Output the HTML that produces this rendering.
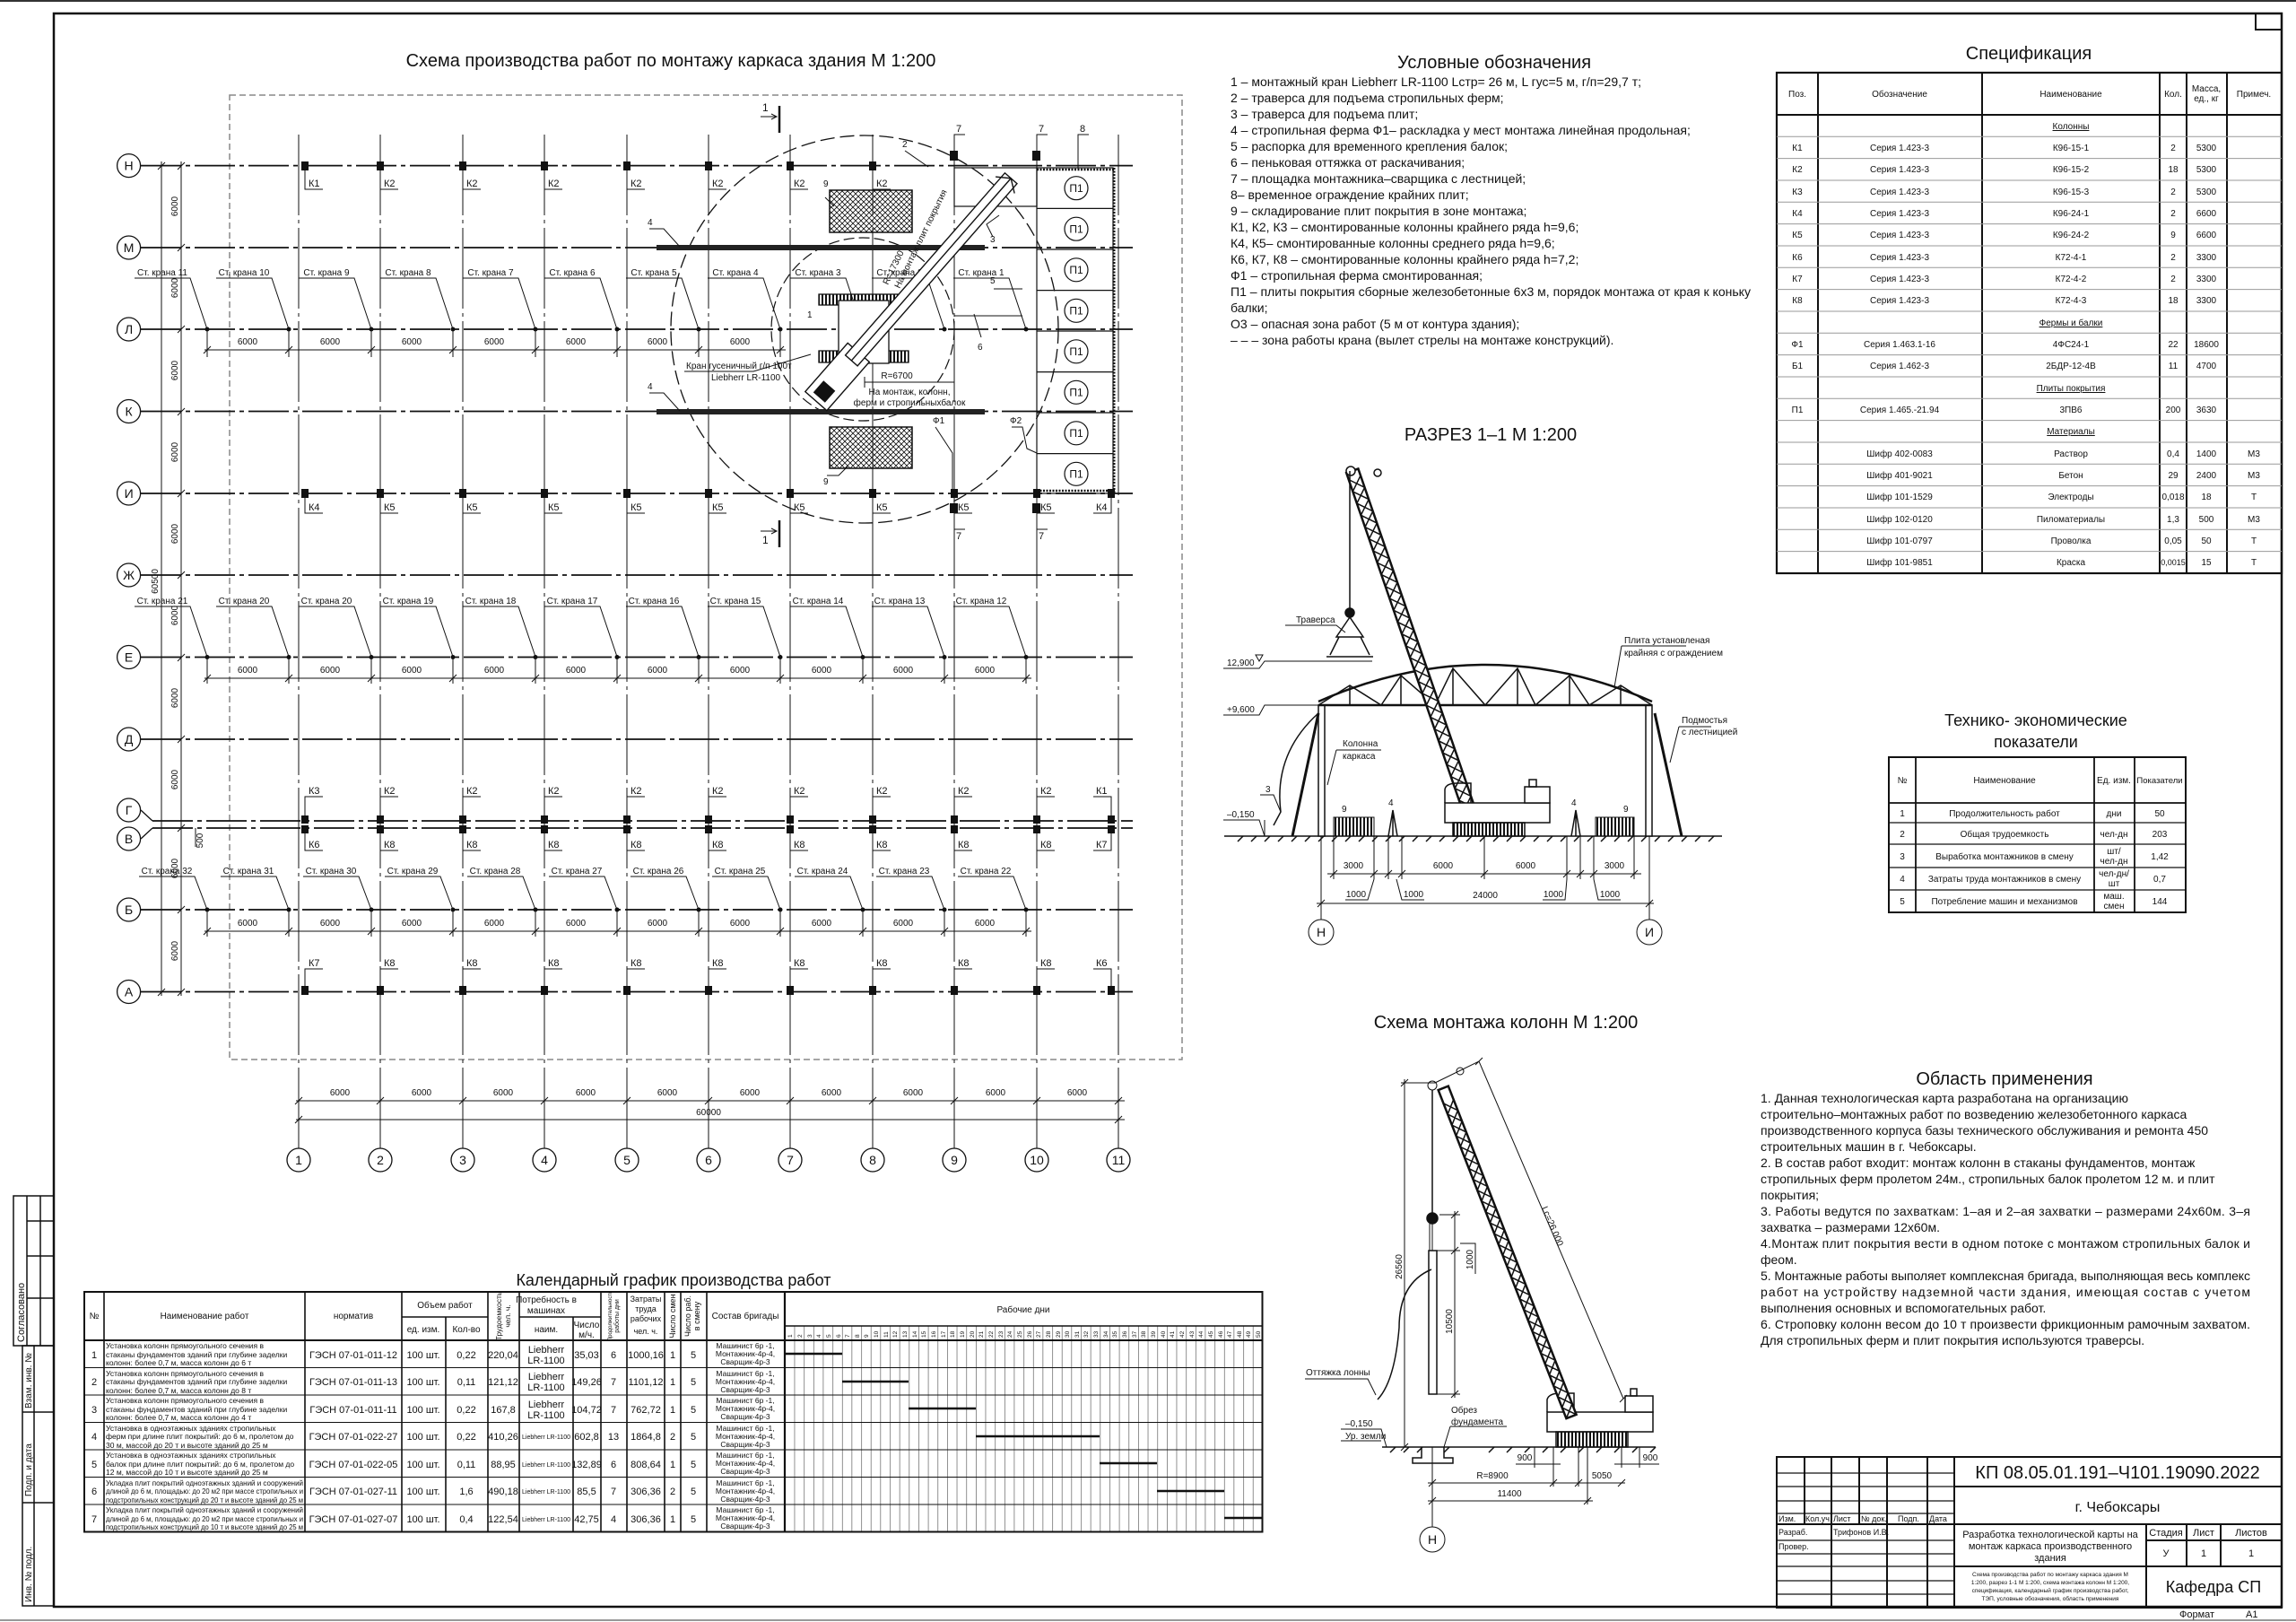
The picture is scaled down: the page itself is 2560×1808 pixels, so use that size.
<!DOCTYPE html>
<html><head><meta charset="utf-8">
<style>
html,body{margin:0;padding:0;background:#fff;}
svg{display:block;}
text{font-family:"Liberation Sans Narrow","Liberation Sans","DejaVu Sans",sans-serif;fill:#111;}
.t9{font-size:9px}.t10{font-size:10px}.t11{font-size:11px}.t12{font-size:12px}.t13{font-size:13px}.t14{font-size:14px}.t16{font-size:16px}.t18{font-size:18px}.t20{font-size:20px}
.m{text-anchor:middle}
.ln{stroke:#111;fill:none}
</style></head><body>
<svg width="2560" height="1808" viewBox="0 0 2560 1808" xmlns="http://www.w3.org/2000/svg">
<defs>
<pattern id="xh" patternUnits="userSpaceOnUse" width="6" height="6"><path d="M0 0L6 6M6 0L0 6" stroke="#111" stroke-width="0.8"/></pattern>
<pattern id="days" patternUnits="userSpaceOnUse" x="875" y="0" width="10.65" height="10"><line x1="0.3" y1="0" x2="0.3" y2="10" stroke="#555" stroke-width="0.7"/></pattern>
<pattern id="trs" patternUnits="userSpaceOnUse" width="4" height="5"><rect width="2" height="5" fill="#111"/></pattern>
</defs>
<rect width="2560" height="1808" fill="#fff"/>
<!-- page frame -->
<line x1="0" y1="1" x2="2560" y2="1" stroke="#333" stroke-width="2"/>
<line x1="0" y1="1806" x2="2560" y2="1806" stroke="#999" stroke-width="2"/>
<rect x="60" y="15" width="2484" height="1776" class="ln" stroke-width="2.5"/>
<rect x="2515" y="15" width="29" height="18" class="ln" stroke-width="2"/>
<!-- left stamp strip -->
<g class="ln" stroke-width="1.5">
<rect x="15" y="1333" width="45" height="167"/>
<line x1="30" y1="1333" x2="30" y2="1500"/><line x1="45" y1="1333" x2="45" y2="1500"/>
<line x1="30" y1="1361" x2="60" y2="1361"/><line x1="30" y1="1400" x2="60" y2="1400"/><line x1="30" y1="1447" x2="60" y2="1447"/>
<rect x="25" y="1500" width="35" height="290"/>
<line x1="38" y1="1500" x2="38" y2="1790"/>
<line x1="25" y1="1574" x2="60" y2="1574"/><line x1="25" y1="1675" x2="60" y2="1675"/>
</g>
<text class="t11" transform="translate(27,1496) rotate(-90)">Согласовано</text>
<text class="t10" transform="translate(35,1570) rotate(-90)">Взам. инв. №</text>
<text class="t10" transform="translate(35,1668) rotate(-90)">Подп. и дата</text>
<text class="t10" transform="translate(35,1786) rotate(-90)">Инв. № подл.</text>

<!-- ================= PLAN ================= -->
<text class="t20 m" x="748" y="74">Схема производства работ по монтажу каркаса здания М 1:200</text>
<rect x="256" y="106" width="1062" height="1075" fill="none" stroke="#888" stroke-width="1.5" stroke-dasharray="7 4"/>
<!-- column axes -->
<g stroke="#111" stroke-width="1" stroke-dasharray="90 5 4 5">
<line x1="333" y1="150" x2="333" y2="1280"/><line x1="424" y1="150" x2="424" y2="1280"/><line x1="516" y1="150" x2="516" y2="1280"/><line x1="607" y1="150" x2="607" y2="1280"/><line x1="699" y1="150" x2="699" y2="1280"/><line x1="790" y1="150" x2="790" y2="1280"/><line x1="881" y1="150" x2="881" y2="1280"/><line x1="973" y1="150" x2="973" y2="1280"/><line x1="1064" y1="150" x2="1064" y2="1280"/><line x1="1156" y1="150" x2="1156" y2="1280"/><line x1="1247" y1="150" x2="1247" y2="1280"/>
</g>
<!-- row axes -->
<g stroke="#111" stroke-width="1.8" stroke-dasharray="45 5 5 5">
<line x1="157" y1="184.6" x2="1263" y2="184.6"/><line x1="157" y1="276" x2="1263" y2="276"/><line x1="157" y1="367" x2="1263" y2="367"/><line x1="157" y1="458.5" x2="1263" y2="458.5"/><line x1="157" y1="550" x2="1263" y2="550"/><line x1="157" y1="641" x2="1263" y2="641"/><line x1="157" y1="732.5" x2="1263" y2="732.5"/><line x1="157" y1="824" x2="1263" y2="824"/><line x1="170" y1="915" x2="1263" y2="915"/><line x1="170" y1="923" x2="1263" y2="923"/><line x1="157" y1="1014" x2="1263" y2="1014"/><line x1="157" y1="1105.5" x2="1263" y2="1105.5"/>
</g>
<!-- row circles -->
<g class="ln" stroke-width="1.3" fill="#fff">
<circle cx="143.6" cy="184.6" r="13" fill="#fff"/><circle cx="143.6" cy="276" r="13" fill="#fff"/><circle cx="143.6" cy="367" r="13" fill="#fff"/><circle cx="143.6" cy="458.5" r="13" fill="#fff"/><circle cx="143.6" cy="550" r="13" fill="#fff"/><circle cx="143.6" cy="641" r="13" fill="#fff"/><circle cx="143.6" cy="732.5" r="13" fill="#fff"/><circle cx="143.6" cy="824" r="13" fill="#fff"/><circle cx="143.6" cy="903" r="13" fill="#fff"/><circle cx="143.6" cy="935" r="13" fill="#fff"/><circle cx="143.6" cy="1014" r="13" fill="#fff"/><circle cx="143.6" cy="1105.5" r="13" fill="#fff"/>
<path d="M157 903L170 915M157 935L170 923"/>
</g>
<g class="t14 m">
<text x="143.6" y="189.6">Н</text><text x="143.6" y="281">М</text><text x="143.6" y="372">Л</text><text x="143.6" y="463.5">К</text><text x="143.6" y="555">И</text><text x="143.6" y="646">Ж</text><text x="143.6" y="737.5">Е</text><text x="143.6" y="829">Д</text><text x="143.6" y="908">Г</text><text x="143.6" y="940">В</text><text x="143.6" y="1019">Б</text><text x="143.6" y="1110.5">А</text>
</g>
<!-- left dims -->
<g class="ln" stroke-width="1"><line x1="180" y1="180" x2="180" y2="1110"/><line x1="202" y1="180" x2="202" y2="1110"/>
<path d="M176 189l8-8M198 189l8-8M198 280l8-8M198 371l8-8M198 463l8-8M198 554l8-8M198 645l8-8M198 737l8-8M198 828l8-8M198 927l8-8M198 1018l8-8M176 1110l8-8M198 1110l8-8"/>
<path d="M218 923V944"/></g>
<g class="t10 m">
<text transform="translate(198,230) rotate(-90)">6000</text><text transform="translate(198,321) rotate(-90)">6000</text><text transform="translate(198,413) rotate(-90)">6000</text><text transform="translate(198,504) rotate(-90)">6000</text><text transform="translate(198,595) rotate(-90)">6000</text><text transform="translate(176,648) rotate(-90)">60500</text><text transform="translate(198,686) rotate(-90)">6000</text><text transform="translate(198,778) rotate(-90)">6000</text><text transform="translate(198,869) rotate(-90)">6000</text><text transform="translate(198,968) rotate(-90)">6000</text><text transform="translate(198,1060) rotate(-90)">6000</text><text transform="translate(226,937) rotate(-90)">500</text>
</g>
<!-- bottom dims -->
<g class="ln" stroke-width="1"><line x1="330" y1="1227" x2="1254" y2="1227"/><line x1="330" y1="1248" x2="1254" y2="1248"/>
<path d="M329 1231l8-8M420 1231l8-8M512 1231l8-8M603 1231l8-8M695 1231l8-8M786 1231l8-8M877 1231l8-8M969 1231l8-8M1060 1231l8-8M1152 1231l8-8M1243 1231l8-8M329 1252l8-8M1243 1252l8-8"/>
<path d="M333 1280V1280"/></g>
<g class="t10 m">
<text x="379" y="1221">6000</text><text x="470" y="1221">6000</text><text x="561" y="1221">6000</text><text x="653" y="1221">6000</text><text x="744" y="1221">6000</text><text x="836" y="1221">6000</text><text x="927" y="1221">6000</text><text x="1018" y="1221">6000</text><text x="1110" y="1221">6000</text><text x="1201" y="1221">6000</text><text x="790" y="1243">60000</text>
</g>
<g class="ln" stroke-width="1.3">
<circle cx="333" cy="1293" r="13" fill="#fff"/><circle cx="424" cy="1293" r="13" fill="#fff"/><circle cx="516" cy="1293" r="13" fill="#fff"/><circle cx="607" cy="1293" r="13" fill="#fff"/><circle cx="699" cy="1293" r="13" fill="#fff"/><circle cx="790" cy="1293" r="13" fill="#fff"/><circle cx="881" cy="1293" r="13" fill="#fff"/><circle cx="973" cy="1293" r="13" fill="#fff"/><circle cx="1064" cy="1293" r="13" fill="#fff"/><circle cx="1156" cy="1293" r="13" fill="#fff"/><circle cx="1247" cy="1293" r="13" fill="#fff"/>
</g>
<g class="t14 m">
<text x="333" y="1298">1</text><text x="424" y="1298">2</text><text x="516" y="1298">3</text><text x="607" y="1298">4</text><text x="699" y="1298">5</text><text x="790" y="1298">6</text><text x="881" y="1298">7</text><text x="973" y="1298">8</text><text x="1064" y="1298">9</text><text x="1156" y="1298">10</text><text x="1247" y="1298">11</text>
</g>

<!-- column squares -->
<g fill="#111">
<!-- Н -->
<rect x="336" y="180" width="8" height="10"/><rect x="420" y="180" width="8" height="10"/><rect x="512" y="180" width="8" height="10"/><rect x="603" y="180" width="8" height="10"/><rect x="695" y="180" width="8" height="10"/><rect x="786" y="180" width="8" height="10"/><rect x="877" y="180" width="8" height="10"/><rect x="969" y="180" width="8" height="10"/>
<rect x="1059" y="168" width="9" height="11"/><rect x="1151" y="168" width="9" height="11"/>
<!-- И -->
<rect x="336" y="545" width="8" height="10"/><rect x="420" y="545" width="8" height="10"/><rect x="512" y="545" width="8" height="10"/><rect x="603" y="545" width="8" height="10"/><rect x="695" y="545" width="8" height="10"/><rect x="786" y="545" width="8" height="10"/><rect x="877" y="545" width="8" height="10"/><rect x="969" y="545" width="8" height="10"/><rect x="1060" y="545" width="8" height="10"/><rect x="1152" y="545" width="8" height="10"/><rect x="1235" y="545" width="8" height="10"/>
<rect x="1059" y="561" width="9" height="11"/><rect x="1151" y="561" width="9" height="11"/>
<!-- Г / В / А -->
<rect x="336" y="909" width="8" height="9"/><rect x="420" y="909" width="8" height="9"/><rect x="512" y="909" width="8" height="9"/><rect x="603" y="909" width="8" height="9"/><rect x="695" y="909" width="8" height="9"/><rect x="786" y="909" width="8" height="9"/><rect x="877" y="909" width="8" height="9"/><rect x="969" y="909" width="8" height="9"/><rect x="1060" y="909" width="8" height="9"/><rect x="1152" y="909" width="8" height="9"/><rect x="1235" y="909" width="8" height="9"/>
<rect x="336" y="920" width="8" height="9"/><rect x="420" y="920" width="8" height="9"/><rect x="512" y="920" width="8" height="9"/><rect x="603" y="920" width="8" height="9"/><rect x="695" y="920" width="8" height="9"/><rect x="786" y="920" width="8" height="9"/><rect x="877" y="920" width="8" height="9"/><rect x="969" y="920" width="8" height="9"/><rect x="1060" y="920" width="8" height="9"/><rect x="1152" y="920" width="8" height="9"/><rect x="1235" y="920" width="8" height="9"/>
<rect x="336" y="1099" width="8" height="10"/><rect x="420" y="1099" width="8" height="10"/><rect x="512" y="1099" width="8" height="10"/><rect x="603" y="1099" width="8" height="10"/><rect x="695" y="1099" width="8" height="10"/><rect x="786" y="1099" width="8" height="10"/><rect x="877" y="1099" width="8" height="10"/><rect x="969" y="1099" width="8" height="10"/><rect x="1060" y="1099" width="8" height="10"/><rect x="1152" y="1099" width="8" height="10"/><rect x="1235" y="1099" width="8" height="10"/>
</g>
<!-- column label leaders -->
<g class="ln" stroke-width="1">
<path d="M340 190V211H360M424 190V211H444M516 190V211H536M607 190V211H627M699 190V211H719M790 190V211H810M881 190V211H901M973 190V211H993"/>
<path d="M340 555V572H360M424 555V572H444M516 555V572H536M607 555V572H627M699 555V572H719M790 555V572H810M881 555V572H901M973 555V572H993M1064 555V572H1084M1156 555V572H1176M1239 555V572H1219"/>
<path d="M340 909V888H360M424 909V888H444M516 909V888H536M607 909V888H627M699 909V888H719M790 909V888H810M881 909V888H901M973 909V888H993M1064 909V888H1084M1156 909V888H1176M1239 909V888H1219"/>
<path d="M340 929V948H360M424 929V948H444M516 929V948H536M607 929V948H627M699 929V948H719M790 929V948H810M881 929V948H901M973 929V948H993M1064 929V948H1084M1156 929V948H1176M1239 929V948H1219"/>
<path d="M340 1099V1080H360M424 1099V1080H444M516 1099V1080H536M607 1099V1080H627M699 1099V1080H719M790 1099V1080H810M881 1099V1080H901M973 1099V1080H993M1064 1099V1080H1084M1156 1099V1080H1176M1239 1099V1080H1219"/>
<path d="M1064 168V150H1076M1156 168V150H1168M1202 190V150H1214M1064 572V590H1076M1156 572V590H1168"/>
</g>
<g class="t11">
<text x="344" y="208">К1</text><text x="428" y="208">К2</text><text x="520" y="208">К2</text><text x="611" y="208">К2</text><text x="703" y="208">К2</text><text x="794" y="208">К2</text><text x="885" y="208">К2</text><text x="977" y="208">К2</text>
<text x="344" y="569">К4</text><text x="428" y="569">К5</text><text x="520" y="569">К5</text><text x="611" y="569">К5</text><text x="703" y="569">К5</text><text x="794" y="569">К5</text><text x="885" y="569">К5</text><text x="977" y="569">К5</text><text x="1068" y="569">К5</text><text x="1160" y="569">К5</text><text x="1222" y="569">К4</text>
<text x="344" y="885">К3</text><text x="428" y="885">К2</text><text x="520" y="885">К2</text><text x="611" y="885">К2</text><text x="703" y="885">К2</text><text x="794" y="885">К2</text><text x="885" y="885">К2</text><text x="977" y="885">К2</text><text x="1068" y="885">К2</text><text x="1160" y="885">К2</text><text x="1222" y="885">К1</text>
<text x="344" y="945">К6</text><text x="428" y="945">К8</text><text x="520" y="945">К8</text><text x="611" y="945">К8</text><text x="703" y="945">К8</text><text x="794" y="945">К8</text><text x="885" y="945">К8</text><text x="977" y="945">К8</text><text x="1068" y="945">К8</text><text x="1160" y="945">К8</text><text x="1222" y="945">К7</text>
<text x="344" y="1077">К7</text><text x="428" y="1077">К8</text><text x="520" y="1077">К8</text><text x="611" y="1077">К8</text><text x="703" y="1077">К8</text><text x="794" y="1077">К8</text><text x="885" y="1077">К8</text><text x="977" y="1077">К8</text><text x="1068" y="1077">К8</text><text x="1160" y="1077">К8</text><text x="1222" y="1077">К6</text>
<text x="1066" y="147">7</text><text x="1158" y="147">7</text><text x="1204" y="147">8</text><text x="1066" y="601">7</text><text x="1158" y="601">7</text>
</g>

<!-- crane stations -->
<g class="ln" stroke-width="1">
<!-- Л -->
<path d="M150 310H212L231 367M241 310H303L322 367M333 310H395L414 367M424 310H486L505 367M516 310H578L597 367M607 310H669L688 367M698 310H760L779 367M789 310H851L870 367M881 310H943L962 367M972 310H1034L1053 367M1063 310H1125L1144 367"/>
<line x1="228" y1="390" x2="876" y2="390"/>
<path d="M231 367V398M322 367V398M414 367V398M505 367V398M597 367V398M688 367V398M779 367V398M870 367V398M227 394l8-8M318 394l8-8M410 394l8-8M501 394l8-8M593 394l8-8M684 394l8-8M775 394l8-8M866 394l8-8"/>
<!-- Е -->
<path d="M150 676H212L231 732M241 676H303L322 732M333 676H395L414 732M424 676H486L505 732M516 676H578L597 732M607 676H669L688 732M698 676H760L779 732M789 676H851L870 732M881 676H943L962 732M972 676H1034L1053 732M1063 676H1125L1144 732"/>
<line x1="228" y1="756" x2="1150" y2="756"/>
<path d="M231 732V762M322 732V762M414 732V762M505 732V762M597 732V762M688 732V762M779 732V762M870 732V762M962 732V762M1053 732V762M1144 732V762M227 760l8-8M318 760l8-8M410 760l8-8M501 760l8-8M593 760l8-8M684 760l8-8M775 760l8-8M866 760l8-8M958 760l8-8M1049 760l8-8M1140 760l8-8"/>
<!-- Б -->
<path d="M155 977H217L231 1014M246 977H308L322 1014M338 977H400L414 1014M429 977H491L505 1014M521 977H583L597 1014M612 977H674L688 1014M703 977H765L779 1014M794 977H856L870 1014M886 977H948L962 1014M977 977H1039L1053 1014M1068 977H1130L1144 1014"/>
<line x1="228" y1="1038" x2="1150" y2="1038"/>
<path d="M231 1014V1044M322 1014V1044M414 1014V1044M505 1014V1044M597 1014V1044M688 1014V1044M779 1014V1044M870 1014V1044M962 1014V1044M1053 1014V1044M1144 1014V1044M227 1042l8-8M318 1042l8-8M410 1042l8-8M501 1042l8-8M593 1042l8-8M684 1042l8-8M775 1042l8-8M866 1042l8-8M958 1042l8-8M1049 1042l8-8M1140 1042l8-8"/>
</g>
<g fill="#111">
<circle cx="231" cy="367" r="2.5"/><circle cx="322" cy="367" r="2.5"/><circle cx="414" cy="367" r="2.5"/><circle cx="505" cy="367" r="2.5"/><circle cx="597" cy="367" r="2.5"/><circle cx="688" cy="367" r="2.5"/><circle cx="779" cy="367" r="2.5"/><circle cx="870" cy="367" r="2.5"/><circle cx="962" cy="367" r="2.5"/><circle cx="1053" cy="367" r="2.5"/><circle cx="1144" cy="367" r="2.5"/>
<circle cx="231" cy="732.5" r="2.5"/><circle cx="322" cy="732.5" r="2.5"/><circle cx="414" cy="732.5" r="2.5"/><circle cx="505" cy="732.5" r="2.5"/><circle cx="597" cy="732.5" r="2.5"/><circle cx="688" cy="732.5" r="2.5"/><circle cx="779" cy="732.5" r="2.5"/><circle cx="870" cy="732.5" r="2.5"/><circle cx="962" cy="732.5" r="2.5"/><circle cx="1053" cy="732.5" r="2.5"/><circle cx="1144" cy="732.5" r="2.5"/>
<circle cx="231" cy="1014" r="2.5"/><circle cx="322" cy="1014" r="2.5"/><circle cx="414" cy="1014" r="2.5"/><circle cx="505" cy="1014" r="2.5"/><circle cx="597" cy="1014" r="2.5"/><circle cx="688" cy="1014" r="2.5"/><circle cx="779" cy="1014" r="2.5"/><circle cx="870" cy="1014" r="2.5"/><circle cx="962" cy="1014" r="2.5"/><circle cx="1053" cy="1014" r="2.5"/><circle cx="1144" cy="1014" r="2.5"/>
</g>
<g class="t10 m">
<text x="181" y="307">Ст. крана 11</text><text x="272" y="307">Ст. крана 10</text><text x="364" y="307">Ст. крана 9</text><text x="455" y="307">Ст. крана 8</text><text x="547" y="307">Ст. крана 7</text><text x="638" y="307">Ст. крана 6</text><text x="729" y="307">Ст. крана 5</text><text x="820" y="307">Ст. крана 4</text><text x="912" y="307">Ст. крана 3</text><text x="1003" y="307">Ст. крана 2</text><text x="1094" y="307">Ст. крана 1</text>
<text x="276" y="384">6000</text><text x="368" y="384">6000</text><text x="459" y="384">6000</text><text x="551" y="384">6000</text><text x="642" y="384">6000</text><text x="733" y="384">6000</text><text x="825" y="384">6000</text>
<text x="181" y="673">Ст. крана 21</text><text x="272" y="673">Ст. крана 20</text><text x="364" y="673">Ст. крана 20</text><text x="455" y="673">Ст. крана 19</text><text x="547" y="673">Ст. крана 18</text><text x="638" y="673">Ст. крана 17</text><text x="729" y="673">Ст. крана 16</text><text x="820" y="673">Ст. крана 15</text><text x="912" y="673">Ст. крана 14</text><text x="1003" y="673">Ст. крана 13</text><text x="1094" y="673">Ст. крана 12</text>
<text x="276" y="750">6000</text><text x="368" y="750">6000</text><text x="459" y="750">6000</text><text x="551" y="750">6000</text><text x="642" y="750">6000</text><text x="733" y="750">6000</text><text x="825" y="750">6000</text><text x="916" y="750">6000</text><text x="1007" y="750">6000</text><text x="1098" y="750">6000</text>
<text x="186" y="974">Ст. крана 32</text><text x="277" y="974">Ст. крана 31</text><text x="369" y="974">Ст. крана 30</text><text x="460" y="974">Ст. крана 29</text><text x="552" y="974">Ст. крана 28</text><text x="643" y="974">Ст. крана 27</text><text x="734" y="974">Ст. крана 26</text><text x="825" y="974">Ст. крана 25</text><text x="917" y="974">Ст. крана 24</text><text x="1008" y="974">Ст. крана 23</text><text x="1099" y="974">Ст. крана 22</text>
<text x="276" y="1032">6000</text><text x="368" y="1032">6000</text><text x="459" y="1032">6000</text><text x="551" y="1032">6000</text><text x="642" y="1032">6000</text><text x="733" y="1032">6000</text><text x="825" y="1032">6000</text><text x="916" y="1032">6000</text><text x="1007" y="1032">6000</text><text x="1098" y="1032">6000</text>
</g>

<!-- crane working area -->
<circle cx="964" cy="367" r="216" fill="none" stroke="#111" stroke-width="1.3" stroke-dasharray="16 6"/>
<circle cx="962" cy="367" r="102" fill="none" stroke="#111" stroke-width="1.2" stroke-dasharray="12 5"/>
<rect x="925" y="212" width="92" height="47" fill="url(#xh)" stroke="#111" stroke-width="1.5"/>
<rect x="925" y="476" width="92" height="46" fill="url(#xh)" stroke="#111" stroke-width="1.5"/>
<rect x="732" y="273" width="366" height="6" fill="#222"/>
<rect x="732" y="456" width="366" height="6" fill="#222"/>
<!-- section marks -->
<g stroke="#111" stroke-width="2.5"><line x1="869" y1="118" x2="869" y2="148"/><line x1="869" y1="580" x2="869" y2="610"/></g>
<g class="ln" stroke-width="1"><path d="M848 130H866M860 127l6 3-6 3M848 592H866M860 589l6 3-6 3"/></g>
<text class="t12" x="850" y="124">1</text><text class="t12" x="850" y="606">1</text>
<!-- П1 slabs -->
<g class="ln" stroke-width="1.2">
<rect x="1156" y="187" width="85" height="363"/>
<path d="M1156 232.4H1241M1156 278H1241M1156 323.6H1241M1156 369H1241M1156 414.6H1241M1156 460H1241M1156 505.6H1241"/>
<rect x="1064" y="187" width="92" height="43"/>
</g>
<line x1="1242" y1="187" x2="1242" y2="550" stroke="#111" stroke-width="3" stroke-dasharray="2 1.5"/>
<line x1="1156" y1="189" x2="1242" y2="189" stroke="#111" stroke-width="2.5" stroke-dasharray="2 1.5"/>
<line x1="1156" y1="547" x2="1242" y2="547" stroke="#111" stroke-width="2.5" stroke-dasharray="2 1.5"/>
<g class="ln" stroke-width="1.2">
<circle cx="1200" cy="209.7" r="13" fill="#fff"/><circle cx="1200" cy="255.2" r="13" fill="#fff"/><circle cx="1200" cy="300.8" r="13" fill="#fff"/><circle cx="1200" cy="346.3" r="13" fill="#fff"/><circle cx="1200" cy="391.8" r="13" fill="#fff"/><circle cx="1200" cy="437.3" r="13" fill="#fff"/><circle cx="1200" cy="482.8" r="13" fill="#fff"/><circle cx="1200" cy="528.3" r="13" fill="#fff"/>
</g>
<g class="t12 m">
<text x="1200" y="214">П1</text><text x="1200" y="259.5">П1</text><text x="1200" y="305">П1</text><text x="1200" y="350.5">П1</text><text x="1200" y="396">П1</text><text x="1200" y="441.5">П1</text><text x="1200" y="487">П1</text><text x="1200" y="532.5">П1</text>
</g>
<!-- crane in plan -->
<g class="ln" stroke-width="1.3">
<rect x="913" y="328" width="100" height="12" fill="url(#trs)"/>
<rect x="913" y="391" width="100" height="13" fill="url(#trs)"/>
<rect x="935" y="335" width="56" height="70" fill="#fff"/>
</g>
<g transform="translate(923,432) rotate(-48.8)" class="ln" stroke-width="1.4">
<rect x="-20" y="-16" width="72" height="32" fill="#fff"/>
<rect x="-14" y="-8" width="16" height="16" fill="#111"/>
<rect x="40" y="-9" width="270" height="18" fill="#fff"/>
<line x1="40" y1="0" x2="310" y2="0"/>
<path d="M300 -14L310 0L300 14"/>
</g>
<text class="t10" transform="translate(990,318) rotate(-64)">R=17300</text>
<text class="t10" transform="translate(1003,322) rotate(-64)">На монтаж плит покрытия</text>
<g class="ln" stroke-width="1">
<path d="M964 426H1064M964 420V432M1064 420V432"/>
<path d="M900 150l0 0M1009 168L1035 186M1107 264L1100 250L1114 240M1108 322H1140M1064 352H1140M1094 376L1086 350"/>
<path d="M724 255H740L758 275M724 438H740L758 458M1043 476L1062 505V550M1128 476H1140L1145 500L1156 505"/>
<path d="M763 414H840L904 395M920 220L930 230M922 530H935L945 520"/>
</g>
<g class="t10">
<text x="1006" y="164">2</text><text x="1104" y="270">3</text><text x="1104" y="316">5</text><text x="1090" y="390">6</text><text x="722" y="251">4</text><text x="722" y="434">4</text><text x="1040" y="472">Ф1</text><text x="1126" y="472">Ф2</text><text x="918" y="208">9</text><text x="918" y="540">9</text><text x="900" y="354">1</text>
<text x="1000" y="422" class="m">R=6700</text>
<text x="765" y="411">Кран гусеничный г/п 100т</text>
<text x="793" y="424">Liebherr LR-1100</text>
<text x="1014" y="440" class="m">На монтаж, колонн,</text>
<text x="1014" y="452" class="m">ферм и стропильныхбалок</text>
</g>

<!-- ================= LEGEND ================= -->
<text class="t20 m" x="1666" y="76">Условные обозначения</text>
<g class="t14">
<text x="1372" y="96">1 – монтажный кран  Liebherr LR-1100 Lстр= 26 м, L гус=5 м, г/п=29,7 т;</text>
<text x="1372" y="114">2 – траверса для подъема стропильных ферм;</text>
<text x="1372" y="132">3 – траверса для подъема плит;</text>
<text x="1372" y="150">4 – стропильная ферма Ф1– раскладка у мест монтажа линейная продольная;</text>
<text x="1372" y="168">5 – распорка для временного крепления балок;</text>
<text x="1372" y="186">6 – пеньковая оттяжка от раскачивания;</text>
<text x="1372" y="204">7 – площадка монтажника–сварщика с лестницей;</text>
<text x="1372" y="222">8– временное ограждение крайних плит;</text>
<text x="1372" y="240">9 – складирование плит покрытия в зоне монтажа;</text>
<text x="1372" y="258">К1, К2, К3 –  смонтированные колонны крайнего ряда h=9,6;</text>
<text x="1372" y="276">К4, К5– смонтированные колонны среднего ряда h=9,6;</text>
<text x="1372" y="294">К6, К7, К8 –  смонтированные колонны крайнего ряда h=7,2;</text>
<text x="1372" y="312">Ф1 – стропильная ферма смонтированная;</text>
<text x="1372" y="330" textLength="580" lengthAdjust="spacingAndGlyphs">П1 – плиты покрытия сборные железобетонные 6х3 м, порядок монтажа от края к коньку</text>
<text x="1372" y="348">балки;</text>
<text x="1372" y="366">О3 – опасная зона работ (5 м от контура здания);</text>
<text x="1372" y="384">– – – зона работы крана (вылет стрелы на монтаже конструкций).</text>
</g>

<!-- ================= SPEC TABLE ================= -->
<text class="t20 m" x="2262" y="66">Спецификация</text>
<g class="ln">
<rect x="1981" y="81" width="563" height="558" stroke-width="2.2"/>
<g stroke-width="2"><line x1="1981" y1="128" x2="2544" y2="128"/><line x1="2027" y1="81" x2="2027" y2="639"/><line x1="2210" y1="81" x2="2210" y2="639"/><line x1="2408" y1="81" x2="2408" y2="639"/><line x1="2438" y1="81" x2="2438" y2="639"/><line x1="2483" y1="81" x2="2483" y2="639"/></g>
<g stroke="#999" stroke-width="1"><path d="M1981 152.3H2544M1981 176.6H2544M1981 201H2544M1981 225.3H2544M1981 249.6H2544M1981 274H2544M1981 298.3H2544M1981 322.6H2544M1981 347H2544M1981 371.3H2544M1981 395.6H2544M1981 420H2544M1981 444.3H2544M1981 468.6H2544M1981 493H2544M1981 517.3H2544M1981 541.6H2544M1981 566H2544M1981 590.3H2544M1981 614.6H2544"/></g>
</g>
<g class="t10 m">
<text x="2004" y="108">Поз.</text><text x="2118" y="108">Обозначение</text><text x="2309" y="108">Наименование</text><text x="2423" y="108">Кол.</text><text x="2460" y="102">Масса,</text><text x="2460" y="113">ед., кг</text><text x="2513" y="108">Примеч.</text>
<text x="2309" y="144" text-decoration="underline">Колонны</text>
<text x="2004" y="168">К1</text><text x="2118" y="168">Серия 1.423-3</text><text x="2309" y="168">К96-15-1</text><text x="2423" y="168">2</text><text x="2460" y="168">5300</text>
<text x="2004" y="192">К2</text><text x="2118" y="192">Серия 1.423-3</text><text x="2309" y="192">К96-15-2</text><text x="2423" y="192">18</text><text x="2460" y="192">5300</text>
<text x="2004" y="217">К3</text><text x="2118" y="217">Серия 1.423-3</text><text x="2309" y="217">К96-15-3</text><text x="2423" y="217">2</text><text x="2460" y="217">5300</text>
<text x="2004" y="241">К4</text><text x="2118" y="241">Серия 1.423-3</text><text x="2309" y="241">К96-24-1</text><text x="2423" y="241">2</text><text x="2460" y="241">6600</text>
<text x="2004" y="265">К5</text><text x="2118" y="265">Серия 1.423-3</text><text x="2309" y="265">К96-24-2</text><text x="2423" y="265">9</text><text x="2460" y="265">6600</text>
<text x="2004" y="290">К6</text><text x="2118" y="290">Серия 1.423-3</text><text x="2309" y="290">К72-4-1</text><text x="2423" y="290">2</text><text x="2460" y="290">3300</text>
<text x="2004" y="314">К7</text><text x="2118" y="314">Серия 1.423-3</text><text x="2309" y="314">К72-4-2</text><text x="2423" y="314">2</text><text x="2460" y="314">3300</text>
<text x="2004" y="338">К8</text><text x="2118" y="338">Серия 1.423-3</text><text x="2309" y="338">К72-4-3</text><text x="2423" y="338">18</text><text x="2460" y="338">3300</text>
<text x="2309" y="363" text-decoration="underline">Фермы и балки</text>
<text x="2004" y="387">Ф1</text><text x="2118" y="387">Серия 1.463.1-16</text><text x="2309" y="387">4ФС24-1</text><text x="2423" y="387">22</text><text x="2460" y="387">18600</text>
<text x="2004" y="411">Б1</text><text x="2118" y="411">Серия 1.462-3</text><text x="2309" y="411">2БДР-12-4В</text><text x="2423" y="411">11</text><text x="2460" y="411">4700</text>
<text x="2309" y="436" text-decoration="underline">Плиты покрытия</text>
<text x="2004" y="460">П1</text><text x="2118" y="460">Серия 1.465.-21.94</text><text x="2309" y="460">3ПВ6</text><text x="2423" y="460">200</text><text x="2460" y="460">3630</text>
<text x="2309" y="484" text-decoration="underline">Материалы</text>
<text x="2118" y="509">Шифр 402-0083</text><text x="2309" y="509">Раствор</text><text x="2423" y="509">0,4</text><text x="2460" y="509">1400</text><text x="2513" y="509">М3</text>
<text x="2118" y="533">Шифр 401-9021</text><text x="2309" y="533">Бетон</text><text x="2423" y="533">29</text><text x="2460" y="533">2400</text><text x="2513" y="533">М3</text>
<text x="2118" y="557">Шифр 101-1529</text><text x="2309" y="557">Электроды</text><text x="2423" y="557">0,018</text><text x="2460" y="557">18</text><text x="2513" y="557">Т</text>
<text x="2118" y="582">Шифр 102-0120</text><text x="2309" y="582">Пиломатериалы</text><text x="2423" y="582">1,3</text><text x="2460" y="582">500</text><text x="2513" y="582">М3</text>
<text x="2118" y="606">Шифр 101-0797</text><text x="2309" y="606">Проволка</text><text x="2423" y="606">0,05</text><text x="2460" y="606">50</text><text x="2513" y="606">Т</text>
<text x="2118" y="630">Шифр 101-9851</text><text x="2309" y="630">Краска</text><text x="2423" y="630" style="font-size:9px">0,0015</text><text x="2460" y="630">15</text><text x="2513" y="630">Т</text>
</g>

<!-- ================= TEP ================= -->
<text class="t18 m" x="2270" y="809">Технико- экономические</text>
<text class="t18 m" x="2270" y="833">показатели</text>
<g class="ln">
<rect x="2106" y="844" width="331" height="173" stroke-width="2"/>
<g stroke-width="1.8"><line x1="2136" y1="844" x2="2136" y2="1017"/><line x1="2335" y1="844" x2="2335" y2="1017"/><line x1="2380" y1="844" x2="2380" y2="1017"/><line x1="2106" y1="895" x2="2437" y2="895"/></g>
<g stroke-width="1.2"><path d="M2106 917H2437M2106 941H2437M2106 967H2437M2106 992H2437"/></g>
</g>
<g class="t10 m">
<text x="2121" y="873">№</text><text x="2235" y="873">Наименование</text><text x="2357" y="873">Ед. изм.</text><text x="2408" y="873" style="font-size:9.5px">Показатели</text>
<text x="2121" y="910">1</text><text x="2235" y="910">Продолжительность работ</text><text x="2357" y="910">дни</text><text x="2408" y="910">50</text>
<text x="2121" y="933">2</text><text x="2235" y="933">Общая трудоемкость</text><text x="2357" y="933">чел-дн</text><text x="2408" y="933">203</text>
<text x="2121" y="958">3</text><text x="2235" y="958">Выработка монтажников в смену</text><text x="2357" y="952">шт/</text><text x="2357" y="963">чел-дн</text><text x="2408" y="958">1,42</text>
<text x="2121" y="983">4</text><text x="2235" y="983">Затраты труда монтажников в смену</text><text x="2357" y="977">чел-дн/</text><text x="2357" y="988">шт</text><text x="2408" y="983">0,7</text>
<text x="2121" y="1008">5</text><text x="2235" y="1008">Потребление машин и механизмов</text><text x="2357" y="1002">маш.</text><text x="2357" y="1013">смен</text><text x="2408" y="1008">144</text>
</g>

<!-- ================= AREA ================= -->
<text class="t20 m" x="2235" y="1209">Область применения</text>
<g class="t14">
<text x="1963" y="1229">1. Данная технологическая карта разработана на организацию</text>
<text x="1963" y="1247">строительно–монтажных работ по возведению железобетонного каркаса</text>
<text x="1963" y="1265">производственного корпуса базы технического обслуживания и ремонта 450</text>
<text x="1963" y="1283">строительных машин в г. Чебоксары.</text>
<text x="1963" y="1301">2. В состав работ входит: монтаж колонн в стаканы фундаментов, монтаж</text>
<text x="1963" y="1319">стропильных ферм пролетом 24м., стропильных балок пролетом 12 м. и плит</text>
<text x="1963" y="1337">покрытия;</text>
<text x="1963" y="1355" textLength="546" lengthAdjust="spacing">3. Работы ведутся по захваткам: 1–ая и 2–ая захватки – размерами 24х60м. 3–я</text>
<text x="1963" y="1373">захватка – размерами 12х60м.</text>
<text x="1963" y="1391" textLength="546" lengthAdjust="spacing">4.Монтаж плит покрытия вести в одном потоке с монтажом стропильных балок и</text>
<text x="1963" y="1409">феом.</text>
<text x="1963" y="1427" textLength="546" lengthAdjust="spacing">5. Монтажные работы выполяет комплексная бригада, выполняющая весь комплекс</text>
<text x="1963" y="1445" textLength="546" lengthAdjust="spacing">работ на устройству надземной части здания, имеющая состав с учетом</text>
<text x="1963" y="1463">выполнения основных и вспомогательных работ.</text>
<text x="1963" y="1481" textLength="546" lengthAdjust="spacing">6. Строповку колонн весом до 10 т произвести фрикционным рамочным захватом.</text>
<text x="1963" y="1499">Для стропильных ферм и плит покрытия используются траверсы.</text>
</g>

<!-- ================= SECTION 1-1 ================= -->
<text class="t20 m" x="1662" y="491">РАЗРЕЗ 1–1 М 1:200</text>
<g class="ln" stroke-width="1.5">
<line x1="1365" y1="932" x2="1920" y2="932"/>
<path d="M1380 938l6-6M1395 938l6-6M1410 938l6-6M1425 938l6-6M1440 938l6-6M1455 938l6-6M1470 938l6-6M1485 938l6-6M1500 938l6-6M1515 938l6-6M1530 938l6-6M1545 938l6-6M1560 938l6-6M1575 938l6-6M1590 938l6-6M1605 938l6-6M1620 938l6-6M1635 938l6-6M1650 938l6-6M1665 938l6-6M1680 938l6-6M1695 938l6-6M1710 938l6-6M1725 938l6-6M1740 938l6-6M1755 938l6-6M1770 938l6-6M1785 938l6-6M1800 938l6-6M1815 938l6-6M1830 938l6-6M1845 938l6-6M1860 938l6-6M1875 938l6-6M1890 938l6-6M1905 938l6-6"/>
<rect x="1470" y="786" width="7" height="146" fill="#fff"/><rect x="1835" y="786" width="7" height="146" fill="#fff"/>
<line x1="1470" y1="786" x2="1842" y2="786" stroke-width="2.5"/>
<path d="M1470 782Q1656 700 1842 782" stroke-width="2.5"/>
<path d="M1470 786L1505 764L1540 786L1562 753L1600 786L1620 745L1656 786L1692 745L1712 786L1750 753L1772 786L1807 764L1842 786" stroke-width="1.5"/>
<path d="M1505 764V786M1562 753V786M1620 745V786M1692 745V786M1750 753V786M1807 764V786"/>
<path d="M1441 932L1470 795M1875 932L1845 795" stroke-width="3"/>
<path d="M1470 795Q1420 840 1428 905L1420 920"/>
<rect x="1487" y="911" width="45" height="21" fill="url(#trs)" stroke-width="1"/>
<rect x="1779" y="911" width="43" height="21" fill="url(#trs)" stroke-width="1"/>
<path d="M1548 932L1553 903L1558 932M1553 903V932M1752 932L1757 903L1762 932M1757 903V932"/>
</g>
<!-- crane boom section -->
<g transform="translate(1638,903) rotate(-19)" class="ln" stroke-width="1.5">
<rect x="-7" y="-400" width="14" height="400" fill="#fff" stroke-width="2.5"/>
<path d="M-7 0L7 -14L-7 -28L7 -42L-7 -56L7 -70L-7 -84L7 -98L-7 -112L7 -126L-7 -140L7 -154L-7 -168L7 -182L-7 -196L7 -210L-7 -224L7 -238L-7 -252L7 -266L-7 -280L7 -294L-7 -308L7 -322L-7 -336L7 -350L-7 -364L7 -378L-7 -392M7 0L-7 -14L7 -28L-7 -42L7 -56L-7 -70L7 -84L-7 -98L7 -112L-7 -126L7 -140L-7 -154L7 -168L-7 -182L7 -196L-7 -210L7 -224L-7 -238L7 -252L-7 -266L7 -280L-7 -294L7 -308L-7 -322L7 -336L-7 -350L7 -364L-7 -378L7 -392"/>
</g>
<g class="ln" stroke-width="1.5">
<circle cx="1506" cy="525" r="5" fill="#fff"/><circle cx="1536" cy="527" r="4"/>
<line x1="1505" y1="525" x2="1505" y2="680"/>
<circle cx="1505" cy="683" r="5" fill="#111"/>
<path d="M1505 688L1490 710H1520Z M1493 710L1483 730M1517 710L1527 730M1479 732H1531" fill="none"/>
<rect x="1611" y="895" width="117" height="22" fill="#fff"/>
<rect x="1620" y="917" width="80" height="15" fill="url(#trs)"/>
<path d="M1611 895V880Q1612 873 1625 873H1640V895"/>
<rect x="1700" y="877" width="28" height="18" fill="#fff"/><rect x="1705" y="869" width="8" height="8"/>
</g>
<!-- levels & dims -->
<g class="ln" stroke-width="1">
<path d="M1364 745H1404L1410 737H1530M1404 737l-4-7h8z"/>
<path d="M1364 797H1404L1410 786H1470"/>
<path d="M1364 914H1404L1410 932M1410 914V932"/>
<line x1="1480" y1="974" x2="1830" y2="974"/>
<path d="M1487 932V980M1532 932V980M1548 932V980M1563 932V980M1655 932V980M1747 932V980M1762 932V980M1777 932V980M1822 932V980"/>
<path d="M1483 978l8-8M1528 978l8-8M1544 978l8-8M1559 978l8-8M1651 978l8-8M1743 978l8-8M1758 978l8-8M1773 978l8-8M1818 978l8-8"/>
<line x1="1468" y1="1007" x2="1844" y2="1007"/>
<path d="M1473 932V1025M1839 932V1025M1469 1011l8-8M1835 1011l8-8"/>
<path d="M1500 1003H1525L1532 980M1557 980L1563 1003H1588M1720 1003H1745L1747 980M1777 980L1782 1003H1807"/>
<circle cx="1473" cy="1039" r="14" fill="#fff"/><circle cx="1839" cy="1039" r="14" fill="#fff"/>
<path d="M1433 697H1490L1500 705M1808 720H1880M1808 720L1800 766M1872 810H1908M1872 810L1862 850M1490 836H1540M1490 836L1480 875M1405 886H1420L1428 905"/>
</g>
<g class="t10">
<text x="1368" y="742">12,900</text><text x="1368" y="794">+9,600</text><text x="1368" y="911">–0,150</text>
<text x="1509" y="968" class="m">3000</text><text x="1609" y="968" class="m">6000</text><text x="1701" y="968" class="m">6000</text><text x="1800" y="968" class="m">3000</text>
<text x="1512" y="1000" class="m">1000</text><text x="1576" y="1000" class="m">1000</text><text x="1732" y="1000" class="m">1000</text><text x="1795" y="1000" class="m">1000</text>
<text x="1656" y="1001" class="m">24000</text>
<text x="1445" y="694">Траверса</text>
<text x="1811" y="717">Плита установленая</text><text x="1811" y="731">крайняя с ограждением</text>
<text x="1875" y="806">Подмостья</text><text x="1875" y="819">с лестницией</text>
<text x="1497" y="832">Колонна</text><text x="1497" y="846">каркаса</text>
<text x="1411" y="883">3</text><text x="1496" y="905">9</text><text x="1548" y="898">4</text><text x="1752" y="898">4</text><text x="1810" y="905">9</text>
</g>
<text class="t14 m" x="1473" y="1044">Н</text><text class="t14 m" x="1839" y="1044">И</text>

<!-- ================= COLUMN SCHEME ================= -->
<text class="t20 m" x="1679" y="1146">Схема монтажа колонн М 1:200</text>
<g class="ln" stroke-width="1.5">
<line x1="1541" y1="1613" x2="1846" y2="1613"/>
<path d="M1550 1619l6-6M1565 1619l6-6M1580 1619l6-6M1610 1619l6-6M1660 1619l6-6M1680 1619l6-6M1700 1619l6-6M1720 1619l6-6M1740 1619l6-6M1760 1619l6-6M1780 1619l6-6M1800 1619l6-6M1820 1619l6-6M1840 1619l6-6"/>
<path d="M1585 1613V1625H1575V1631H1620V1625H1610V1613"/>
<rect x="1593" y="1394" width="9" height="160" fill="#fff"/>
<line x1="1597" y1="1210" x2="1597" y2="1352"/>
<circle cx="1597" cy="1358" r="6" fill="#111"/>
<path d="M1597 1364V1394M1594 1364V1394" stroke-width="1"/>
<path d="M1596 1415Q1560 1430 1560 1480Q1555 1540 1536 1560"/>
<rect x="1725" y="1574" width="118" height="22" fill="#fff"/>
<rect x="1735" y="1596" width="80" height="17" fill="url(#trs)"/>
<path d="M1725 1574V1560Q1727 1553 1740 1553H1755V1574"/>
<rect x="1812" y="1556" width="31" height="18" fill="#fff"/><rect x="1818" y="1548" width="7" height="8"/>
</g>
<g transform="translate(1752,1579) rotate(-21.3)" class="ln" stroke-width="1.5">
<rect x="-6" y="-393" width="12" height="393" fill="#fff" stroke-width="2.5"/>
<path d="M-6 0L6 -13L-6 -26L6 -39L-6 -52L6 -65L-6 -78L6 -91L-6 -104L6 -117L-6 -130L6 -143L-6 -156L6 -169L-6 -182L6 -195L-6 -208L6 -221L-6 -234L6 -247L-6 -260L6 -273L-6 -286L6 -299L-6 -312L6 -325L-6 -338L6 -351L-6 -364L6 -377M6 0L-6 -13L6 -26L-6 -39L6 -52L-6 -65L6 -78L-6 -91L6 -104L-6 -117L6 -130L-6 -143L6 -156L-6 -169L6 -182L-6 -195L6 -208L-6 -221L6 -234L-6 -247L6 -260L-6 -273L6 -286L-6 -299L6 -312L-6 -325L6 -338L-6 -351L6 -364L-6 -377"/>
</g>
<g class="ln" stroke-width="1">
<circle cx="1597" cy="1210" r="5" fill="#fff"/><circle cx="1628" cy="1194" r="4"/>
<path d="M1562 1207H1600M1566 1203V1613M1562 1211l8-8M1562 1617l8-8"/>
<path d="M1602 1394H1628M1605 1354H1628M1602 1554H1628M1622 1350V1558M1618 1358l8-8M1618 1398l8-8M1618 1558l8-8M1628 1386H1645V1420"/>
<path d="M1600 1207L1649 1183L1810 1559M1645 1187l8-8M1806 1563l8-8"/>
<path d="M1455 1537H1525L1534 1555"/>
<path d="M1495 1593H1540L1546 1613M1495 1606H1540"/>
<path d="M1617 1590H1680M1617 1590L1610 1613"/>
<path d="M1711 1613V1636M1732 1613V1636M1808 1613V1636M1828 1613V1636M1690 1632H1740M1800 1632H1850"/>
<line x1="1592" y1="1653" x2="1812" y2="1653"/><line x1="1592" y1="1673" x2="1776" y2="1673"/>
<path d="M1597 1613V1702M1732 1636V1657M1760 1613V1657M1770 1613V1677M1593 1657l8-8M1728 1657l8-8M1756 1657l8-8M1804 1657l8-8M1593 1677l8-8M1766 1677l8-8"/>
<circle cx="1597" cy="1716" r="14" fill="#fff"/>
</g>
<g class="t10">
<text class="m" transform="translate(1563,1412) rotate(-90)">26560</text>
<text class="m" transform="translate(1619,1473) rotate(-90)">10500</text>
<text class="m" transform="translate(1642,1404) rotate(-90)">1000</text>
<text class="m" transform="translate(1728,1368) rotate(67)">Lс=26 000</text>
<text x="1456" y="1533">Оттяжка лонны</text>
<text x="1500" y="1590">–0,150</text><text x="1500" y="1604">Ур. земли</text>
<text x="1618" y="1575">Обрез</text><text x="1618" y="1588">фундамента</text>
<text x="1700" y="1628" class="m">900</text><text x="1840" y="1628" class="m">900</text>
<text x="1664" y="1648" class="m">R=8900</text><text x="1786" y="1648" class="m">5050</text><text x="1683" y="1668" class="m">11400</text>
</g>
<text class="t14 m" x="1597" y="1721">Н</text>

<!-- ================= CALENDAR ================= -->
<text class="t18 m" x="751" y="1433">Календарный график производства работ</text>
<rect x="875" y="1494" width="533" height="213" fill="url(#days)"/>
<rect x="875" y="1478" width="533" height="16" fill="url(#days)"/>
<g class="ln">
<rect x="94" y="1440" width="1313.5" height="267.5" stroke-width="2"/>
<g stroke-width="1.6">
<line x1="116" y1="1440" x2="116" y2="1707.5"/><line x1="340" y1="1440" x2="340" y2="1707.5"/><line x1="448" y1="1440" x2="448" y2="1707.5"/><line x1="497" y1="1468" x2="497" y2="1707.5"/><line x1="544" y1="1440" x2="544" y2="1707.5"/><line x1="579" y1="1440" x2="579" y2="1707.5"/><line x1="639" y1="1468" x2="639" y2="1707.5"/><line x1="670" y1="1440" x2="670" y2="1707.5"/><line x1="699" y1="1440" x2="699" y2="1707.5"/><line x1="741" y1="1440" x2="741" y2="1707.5"/><line x1="759" y1="1440" x2="759" y2="1707.5"/><line x1="788" y1="1440" x2="788" y2="1707.5"/><line x1="875" y1="1440" x2="875" y2="1707.5" stroke-width="2.2"/>
<line x1="448" y1="1468" x2="544" y2="1468"/><line x1="579" y1="1468" x2="670" y2="1468"/>
<line x1="875" y1="1478" x2="1407.5" y2="1478"/>
<line x1="94" y1="1494" x2="1407.5" y2="1494" stroke-width="2"/>
</g>
<g stroke-width="1.1"><path d="M94 1524.5H1407.5M94 1555H1407.5M94 1585.5H1407.5M94 1616H1407.5M94 1646.5H1407.5M94 1677H1407.5"/></g>
</g>
<g stroke="#111" stroke-width="2.5">
<line x1="875" y1="1509" x2="939" y2="1509"/><line x1="939" y1="1540" x2="1013" y2="1540"/><line x1="1013" y1="1570" x2="1088" y2="1570"/><line x1="1088" y1="1601" x2="1226" y2="1601"/><line x1="1226" y1="1631" x2="1290" y2="1631"/><line x1="1290" y1="1662" x2="1365" y2="1662"/><line x1="1365" y1="1692" x2="1407" y2="1692"/>
</g>
<g class="t10 m">
<text x="105" y="1470">№</text><text x="228" y="1470">Наименование работ</text><text x="394" y="1470">норматив</text>
<text x="496" y="1458">Объем работ</text><text x="472" y="1485">ед. изм.</text><text x="520" y="1485">Кол-во</text>
<text transform="translate(559,1467) rotate(-90)" style="font-size:8.5px">Трудоемкость</text><text transform="translate(569,1467) rotate(-90)" style="font-size:8.5px">чел. ч.</text>
<text x="609" y="1452">Потребность в</text><text x="609" y="1464">машинах</text><text x="609" y="1485">наим.</text><text x="654" y="1480">Число</text><text x="654" y="1491">м/ч.</text>
<text transform="translate(682,1467) rotate(-90)" style="font-size:6px">Продолжительность</text><text transform="translate(690,1467) rotate(-90)" style="font-size:7px">работы дни</text>
<text x="720" y="1451" style="font-size:9px">Затраты</text><text x="720" y="1462" style="font-size:9px">труда</text><text x="720" y="1473" style="font-size:9px">рабочих</text><text x="720" y="1487" style="font-size:9px">чел. ч.</text>
<text transform="translate(753,1467) rotate(-90)" style="font-size:9px">Число смен</text>
<text transform="translate(770,1467) rotate(-90)" style="font-size:9px">Число раб.</text><text transform="translate(780,1467) rotate(-90)" style="font-size:9px">в смену</text>
<text x="831" y="1470">Состав бригады</text>
<text x="1141" y="1463">Рабочие дни</text>
</g>
<g style="font-size:6.5px">
<text transform="translate(883,1491) rotate(-90)">1</text><text transform="translate(894,1491) rotate(-90)">2</text><text transform="translate(905,1491) rotate(-90)">3</text><text transform="translate(915,1491) rotate(-90)">4</text><text transform="translate(926,1491) rotate(-90)">5</text><text transform="translate(937,1491) rotate(-90)">6</text><text transform="translate(947,1491) rotate(-90)">7</text><text transform="translate(958,1491) rotate(-90)">8</text><text transform="translate(968,1491) rotate(-90)">9</text><text transform="translate(979,1491) rotate(-90)">10</text>
<text transform="translate(990,1491) rotate(-90)">11</text><text transform="translate(1000,1491) rotate(-90)">12</text><text transform="translate(1011,1491) rotate(-90)">13</text><text transform="translate(1022,1491) rotate(-90)">14</text><text transform="translate(1032,1491) rotate(-90)">15</text><text transform="translate(1043,1491) rotate(-90)">16</text><text transform="translate(1054,1491) rotate(-90)">17</text><text transform="translate(1064,1491) rotate(-90)">18</text><text transform="translate(1075,1491) rotate(-90)">19</text><text transform="translate(1086,1491) rotate(-90)">20</text>
<text transform="translate(1096,1491) rotate(-90)">21</text><text transform="translate(1107,1491) rotate(-90)">22</text><text transform="translate(1118,1491) rotate(-90)">23</text><text transform="translate(1128,1491) rotate(-90)">24</text><text transform="translate(1139,1491) rotate(-90)">25</text><text transform="translate(1150,1491) rotate(-90)">26</text><text transform="translate(1160,1491) rotate(-90)">27</text><text transform="translate(1171,1491) rotate(-90)">28</text><text transform="translate(1182,1491) rotate(-90)">29</text><text transform="translate(1192,1491) rotate(-90)">30</text>
<text transform="translate(1203,1491) rotate(-90)">31</text><text transform="translate(1213,1491) rotate(-90)">32</text><text transform="translate(1224,1491) rotate(-90)">33</text><text transform="translate(1235,1491) rotate(-90)">34</text><text transform="translate(1245,1491) rotate(-90)">35</text><text transform="translate(1256,1491) rotate(-90)">36</text><text transform="translate(1267,1491) rotate(-90)">37</text><text transform="translate(1277,1491) rotate(-90)">38</text><text transform="translate(1288,1491) rotate(-90)">39</text><text transform="translate(1299,1491) rotate(-90)">40</text>
<text transform="translate(1309,1491) rotate(-90)">41</text><text transform="translate(1320,1491) rotate(-90)">42</text><text transform="translate(1331,1491) rotate(-90)">43</text><text transform="translate(1341,1491) rotate(-90)">44</text><text transform="translate(1352,1491) rotate(-90)">45</text><text transform="translate(1363,1491) rotate(-90)">46</text><text transform="translate(1373,1491) rotate(-90)">47</text><text transform="translate(1384,1491) rotate(-90)">48</text><text transform="translate(1394,1491) rotate(-90)">49</text><text transform="translate(1405,1491) rotate(-90)">50</text>
</g>
<!-- calendar rows -->
<g class="t11 m">
<text x="105" y="1514">1</text><text x="105" y="1544">2</text><text x="105" y="1575">3</text><text x="105" y="1605">4</text><text x="105" y="1636">5</text><text x="105" y="1666">6</text><text x="105" y="1697">7</text>
<text x="394" y="1514">ГЭСН 07-01-011-12</text><text x="394" y="1544">ГЭСН 07-01-011-13</text><text x="394" y="1575">ГЭСН 07-01-011-11</text><text x="394" y="1605">ГЭСН 07-01-022-27</text><text x="394" y="1636">ГЭСН 07-01-022-05</text><text x="394" y="1666">ГЭСН 07-01-027-11</text><text x="394" y="1697">ГЭСН 07-01-027-07</text>
<text x="472" y="1514">100 шт.</text><text x="472" y="1544">100 шт.</text><text x="472" y="1575">100 шт.</text><text x="472" y="1605">100 шт.</text><text x="472" y="1636">100 шт.</text><text x="472" y="1666">100 шт.</text><text x="472" y="1697">100 шт.</text>
<text x="520" y="1514">0,22</text><text x="520" y="1544">0,11</text><text x="520" y="1575">0,22</text><text x="520" y="1605">0,22</text><text x="520" y="1636">0,11</text><text x="520" y="1666">1,6</text><text x="520" y="1697">0,4</text>
<text x="561" y="1514">220,04</text><text x="561" y="1544">121,12</text><text x="561" y="1575">167,8</text><text x="561" y="1605">410,26</text><text x="561" y="1636">88,95</text><text x="561" y="1666">490,18</text><text x="561" y="1697">122,54</text>
<text x="609" y="1508">Liebherr</text><text x="609" y="1520">LR-1100</text><text x="609" y="1538">Liebherr</text><text x="609" y="1550">LR-1100</text><text x="609" y="1569">Liebherr</text><text x="609" y="1581">LR-1100</text>
<text x="609" y="1604" style="font-size:7px">Liebherr LR-1100</text><text x="609" y="1635" style="font-size:7px">Liebherr LR-1100</text><text x="609" y="1665" style="font-size:7px">Liebherr LR-1100</text><text x="609" y="1696" style="font-size:7px">Liebherr LR-1100</text>
<text x="654" y="1514">35,03</text><text x="654" y="1544">149,26</text><text x="654" y="1575">104,72</text><text x="654" y="1605">602,8</text><text x="654" y="1636">132,89</text><text x="654" y="1666">85,5</text><text x="654" y="1697">42,75</text>
<text x="684" y="1514">6</text><text x="684" y="1544">7</text><text x="684" y="1575">7</text><text x="684" y="1605">13</text><text x="684" y="1636">6</text><text x="684" y="1666">7</text><text x="684" y="1697">4</text>
<text x="720" y="1514">1000,16</text><text x="720" y="1544">1101,12</text><text x="720" y="1575">762,72</text><text x="720" y="1605">1864,8</text><text x="720" y="1636">808,64</text><text x="720" y="1666">306,36</text><text x="720" y="1697">306,36</text>
<text x="750" y="1514">1</text><text x="750" y="1544">1</text><text x="750" y="1575">1</text><text x="750" y="1605">2</text><text x="750" y="1636">1</text><text x="750" y="1666">2</text><text x="750" y="1697">1</text>
<text x="773" y="1514">5</text><text x="773" y="1544">5</text><text x="773" y="1575">5</text><text x="773" y="1605">5</text><text x="773" y="1636">5</text><text x="773" y="1666">5</text><text x="773" y="1697">5</text>
</g>
<g class="m" style="font-size:8.5px">
<text x="831" y="1503">Машинист 6р -1,</text><text x="831" y="1512">Монтажник-4р-4,</text><text x="831" y="1521">Сварщик-4р-3</text>
<text x="831" y="1534">Машинист 6р -1,</text><text x="831" y="1543">Монтажник-4р-4,</text><text x="831" y="1552">Сварщик-4р-3</text>
<text x="831" y="1564">Машинист 6р -1,</text><text x="831" y="1573">Монтажник-4р-4,</text><text x="831" y="1582">Сварщик-4р-3</text>
<text x="831" y="1595">Машинист 6р -1,</text><text x="831" y="1604">Монтажник-4р-4,</text><text x="831" y="1613">Сварщик-4р-3</text>
<text x="831" y="1625">Машинист 6р -1,</text><text x="831" y="1634">Монтажник-4р-4,</text><text x="831" y="1643">Сварщик-4р-3</text>
<text x="831" y="1656">Машинист 6р -1,</text><text x="831" y="1665">Монтажник-4р-4,</text><text x="831" y="1674">Сварщик-4р-3</text>
<text x="831" y="1686">Машинист 6р -1,</text><text x="831" y="1695">Монтажник-4р-4,</text><text x="831" y="1704">Сварщик-4р-3</text>
</g>
<g style="font-size:8.5px">
<text x="118" y="1503">Установка колонн прямоугольного сечения в</text><text x="118" y="1513">стаканы фундаментов зданий при глубине заделки</text><text x="118" y="1522">колонн: более 0,7 м, масса колонн до 6 т</text>
<text x="118" y="1534">Установка колонн прямоугольного сечения в</text><text x="118" y="1543">стаканы фундаментов зданий при глубине заделки</text><text x="118" y="1553">колонн: более 0,7 м, масса колонн до 8 т</text>
<text x="118" y="1564">Установка колонн прямоугольного сечения в</text><text x="118" y="1574">стаканы фундаментов зданий при глубине заделки</text><text x="118" y="1583">колонн: более 0,7 м, масса колонн до 4 т</text>
<text x="118" y="1595">Установка в одноэтажных зданиях стропильных</text><text x="118" y="1604">ферм при длине плит покрытий: до 6 м, пролетом до</text><text x="118" y="1614">30 м, массой до 20 т и высоте зданий до 25 м</text>
<text x="118" y="1625">Установка в одноэтажных зданиях стропильных</text><text x="118" y="1635">балок при длине плит покрытий: до 6 м, пролетом до</text><text x="118" y="1644">12 м, массой до 10 т и высоте зданий до 25 м</text>
<text x="118" y="1656" textLength="220" lengthAdjust="spacingAndGlyphs">Укладка плит покрытий одноэтажных зданий и сооружений</text><text x="118" y="1665" textLength="220" lengthAdjust="spacingAndGlyphs">длиной до 6 м, площадью: до 20 м2 при массе стропильных и</text><text x="118" y="1675" textLength="220" lengthAdjust="spacingAndGlyphs">подстропильных конструкций до 20 т и высоте зданий до 25 м</text>
<text x="118" y="1686" textLength="220" lengthAdjust="spacingAndGlyphs">Укладка плит покрытий одноэтажных зданий и сооружений</text><text x="118" y="1696" textLength="220" lengthAdjust="spacingAndGlyphs">длиной до 6 м, площадью: до 20 м2 при массе стропильных и</text><text x="118" y="1705" textLength="220" lengthAdjust="spacingAndGlyphs">подстропильных конструкций до 10 т и высоте зданий до 25 м</text>
</g>

<!-- ================= TITLE BLOCK ================= -->
<g class="ln" stroke-width="2">
<rect x="1981" y="1624" width="563" height="168"/>
<line x1="2179" y1="1624" x2="2179" y2="1792"/>
<line x1="2179" y1="1657" x2="2544" y2="1657"/><line x1="2179" y1="1699" x2="2544" y2="1699"/><line x1="2179" y1="1746" x2="2544" y2="1746"/>
<line x1="2393" y1="1699" x2="2393" y2="1792"/><line x1="2393" y1="1717" x2="2544" y2="1717"/>
<line x1="2438" y1="1699" x2="2438" y2="1746"/><line x1="2476" y1="1699" x2="2476" y2="1746"/>
<line x1="2012" y1="1624" x2="2012" y2="1699"/><line x1="2042" y1="1624" x2="2042" y2="1792"/><line x1="2073" y1="1624" x2="2073" y2="1699"/><line x1="2104" y1="1624" x2="2104" y2="1792"/><line x1="2149" y1="1624" x2="2149" y2="1792"/>
<line x1="1981" y1="1699" x2="2179" y2="1699"/>
</g>
<g class="ln" stroke-width="1.2">
<path d="M1981 1642H2179M1981 1657H2179M1981 1673H2179M1981 1687H2179M1981 1717H2179M1981 1732H2179M1981 1746H2179M1981 1762H2179M1981 1777H2179"/>
</g>
<text class="t20 m" x="2361" y="1648">КП 08.05.01.191–Ч101.19090.2022</text>
<text class="t16 m" x="2361" y="1685">г. Чебоксары</text>
<g class="t11 m"><text x="2286" y="1714">Разработка технологической карты на</text><text x="2286" y="1727">монтаж каркаса производственного</text><text x="2286" y="1740">здания</text>
<text x="2415" y="1712">Стадия</text><text x="2457" y="1712">Лист</text><text x="2510" y="1712">Листов</text>
<text x="2415" y="1735">У</text><text x="2457" y="1735">1</text><text x="2510" y="1735">1</text></g>
<g class="m" style="font-size:6.5px;fill:#444"><text x="2286" y="1757">Схема производства работ по монтажу каркаса здания М</text><text x="2286" y="1766">1:200, разрез 1-1 М 1:200, схема монтажа колонн М 1:200,</text><text x="2286" y="1775">спецификация, календарный график производства работ,</text><text x="2286" y="1784">ТЭП, условные обозначения, область применения</text></g>
<text class="t18 m" x="2468" y="1775">Кафедра СП</text>
<g class="t9"><text x="1983" y="1696">Изм.</text><text x="2013" y="1696">Кол.уч.</text><text x="2044" y="1696">Лист</text><text x="2075" y="1696">№ док.</text><text x="2116" y="1696">Подп.</text><text x="2151" y="1696">Дата</text>
<text x="1983" y="1711">Разраб.</text><text x="2044" y="1711">Трифонов И.В.</text><text x="1983" y="1727">Провер.</text></g>
<text class="t11" x="2430" y="1803">Формат</text><text class="t11" x="2504" y="1803">А1</text>
</svg>
</body></html>
